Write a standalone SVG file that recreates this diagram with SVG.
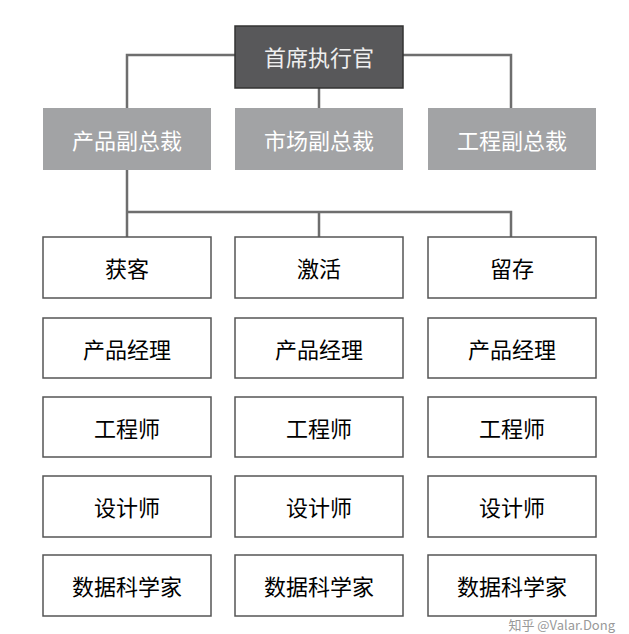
<svg xmlns="http://www.w3.org/2000/svg" width="629" height="634" viewBox="0 0 629 634">
<style>
.t{font-family:"Noto Sans CJK SC","Noto Sans",sans-serif;font-size:22px;text-anchor:middle;dominant-baseline:central}
.w{fill:#fff;stroke:#555;stroke-width:1.5}
.g{fill:#a2a3a5}
.c{fill:none;stroke:#6e6e6e;stroke-width:2.5}
</style>
<rect width="629" height="634" fill="#fff"/>
<g id="connectors">
<path class="c" d="M235 55H127V108M403 55H511V108M319 88V108M127 170V212H511V237M319 212V237M127 212V237"/>
</g>
<g id="ceo"><rect x="235" y="26" width="168" height="62" fill="#58585a" stroke="#333" stroke-width="1.5"/><text class="t" x="319" y="56" fill="#eee">首席执行官</text></g>
<g id="vp1"><rect class="g" x="43" y="108" width="168" height="62"/><text class="t" x="127" y="139" fill="#fff">产品副总裁</text></g>
<g id="vp2"><rect class="g" x="235" y="108" width="168" height="62"/><text class="t" x="319" y="139" fill="#fff">市场副总裁</text></g>
<g id="vp3"><rect class="g" x="428" y="108" width="168" height="62"/><text class="t" x="512" y="139" fill="#fff">工程副总裁</text></g>
<g id="r1c1"><rect class="w" x="43" y="237" width="168" height="61"/><text class="t" x="127" y="267">获客</text></g>
<g id="r1c2"><rect class="w" x="235" y="237" width="168" height="61"/><text class="t" x="319" y="267">激活</text></g>
<g id="r1c3"><rect class="w" x="428" y="237" width="168" height="61"/><text class="t" x="512" y="267">留存</text></g>
<g id="r2c1"><rect class="w" x="43" y="318" width="168" height="60"/><text class="t" x="127" y="348">产品经理</text></g>
<g id="r2c2"><rect class="w" x="235" y="318" width="168" height="60"/><text class="t" x="319" y="348">产品经理</text></g>
<g id="r2c3"><rect class="w" x="428" y="318" width="168" height="60"/><text class="t" x="512" y="348">产品经理</text></g>
<g id="r3c1"><rect class="w" x="43" y="397" width="168" height="60"/><text class="t" x="127" y="427">工程师</text></g>
<g id="r3c2"><rect class="w" x="235" y="397" width="168" height="60"/><text class="t" x="319" y="427">工程师</text></g>
<g id="r3c3"><rect class="w" x="428" y="397" width="168" height="60"/><text class="t" x="512" y="427">工程师</text></g>
<g id="r4c1"><rect class="w" x="43" y="476" width="168" height="61"/><text class="t" x="127" y="506">设计师</text></g>
<g id="r4c2"><rect class="w" x="235" y="476" width="168" height="61"/><text class="t" x="319" y="506">设计师</text></g>
<g id="r4c3"><rect class="w" x="428" y="476" width="168" height="61"/><text class="t" x="512" y="506">设计师</text></g>
<g id="r5c1"><rect class="w" x="43" y="555" width="168" height="61"/><text class="t" x="127" y="585">数据科学家</text></g>
<g id="r5c2"><rect class="w" x="235" y="555" width="168" height="61"/><text class="t" x="319" y="585">数据科学家</text></g>
<g id="r5c3"><rect class="w" x="428" y="555" width="168" height="61"/><text class="t" x="512" y="585">数据科学家</text></g>
<text x="615" y="630" font-family="Noto Sans CJK SC,sans-serif" font-size="13" fill="#999" text-anchor="end">知乎 @Valar.Dong</text>
</svg>
